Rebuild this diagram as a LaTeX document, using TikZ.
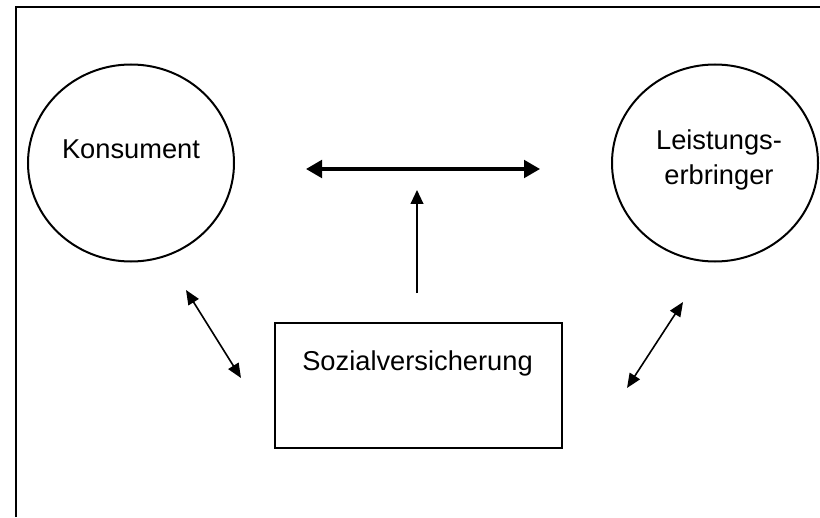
\documentclass[tikz,border=0pt]{standalone}
\usepackage{fontspec}
\setmainfont{Liberation Sans}
\usetikzlibrary{arrows.meta,shapes.geometric}
\begin{document}
\begin{tikzpicture}[
  bubble/.style={draw,ellipse,line width=0.05cm,minimum width=5.15cm,minimum height=4.925cm,inner sep=0},
  kasse/.style={draw,rectangle,line width=0.04cm,minimum width=7.175cm,minimum height=3.125cm,inner sep=0},
  lbl/.style={font=\fontsize{19.4}{25.5}\selectfont,inner sep=0,anchor=base},
  fat/.style={line width=0.08cm,{Triangle[length=0.4cm,width=0.44cm]}-{Triangle[length=0.4cm,width=0.44cm]}},
  thin/.style={line width=0.04cm,{Triangle[length=0.36cm,width=0.3cm]}-{Triangle[length=0.36cm,width=0.3cm]}},
  up/.style={line width=0.04cm,-{Triangle[length=0.35cm,width=0.32cm]}}]
\useasboundingbox (0,0) rectangle (20.5,12.925);
\draw [line width=0.05cm] (0.4,0) -- (0.4,12.75) -- (20.5,12.75);

\node[bubble] (kons) at (3.275,8.85) {};
\node[bubble] (leist) at (17.875,8.85) {};
\node[kasse] (sv) at (10.4625,3.2875) {};

\node[lbl] (tkons) at (3.275,8.95) {Konsument};
\node[lbl,align=center] (tleist) at (17.975,8.3) {Leistungs-\\erbringer};
\node[lbl] (tsv) at (10.4375,3.675) {Sozialversicherung};

\coordinate (h1) at (7.65,8.7);
\coordinate (h2) at (13.5,8.7);
\coordinate (v1) at (10.425,5.6);
\coordinate (v2) at (10.425,8.175);
\coordinate (l1) at (4.65,5.675);
\coordinate (l2) at (6.025,3.475);
\coordinate (r1) at (17.075,5.375);
\coordinate (r2) at (15.675,3.225);

\draw [fat] (h1) -- (h2);
\draw [up] (v1) -- (v2);
\draw [thin] (l1) -- (l2);
\draw [thin] (r1) -- (r2);
\end{tikzpicture}
\end{document}
